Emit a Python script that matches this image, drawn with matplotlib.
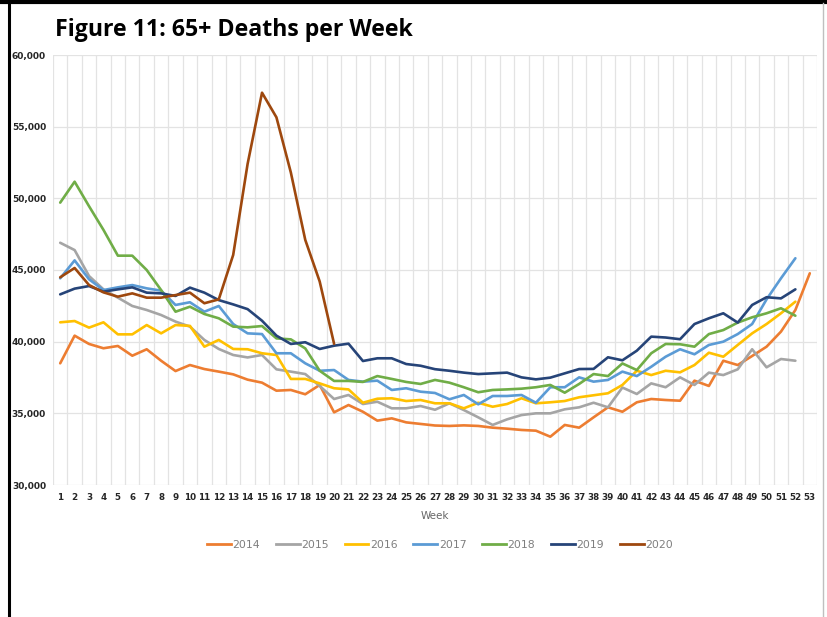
import matplotlib
matplotlib.use("Agg")
import matplotlib.pyplot as plt
from matplotlib.lines import Line2D

weeks = list(range(1, 54))

y2014 = [38490, 40420, 39840, 39540, 39700, 39020, 39470, 38670, 37950, 38370,
         38090, 37910, 37720, 37350, 37140, 36580, 36630, 36330, 36980, 35070,
         35580, 35110, 34490, 34650, 34370, 34260, 34150, 34120, 34160, 34120,
         34000, 33930, 33840, 33790, 33370, 34190, 34000, 34720, 35420, 35110,
         35770, 36000, 35930, 35880, 37280, 36910, 38670, 38370, 39000, 39650,
         40700, 42210, 44770]
y2015 = [46900, 46390, 44580, 43650, 43070, 42490, 42210, 41860, 41400, 41050,
         40120, 39490, 39070, 38900, 39070, 38070, 37910, 37740, 36910, 36000,
         36280, 35650, 35810, 35350, 35350, 35510, 35250, 35700, 35230, 34720,
         34190, 34580, 34880, 35000, 35000, 35280, 35420, 35740, 35420, 36800,
         36350, 37090, 36820, 37510, 36980, 37840, 37670, 38070, 39470, 38210,
         38790, 38670]
y2016 = [41350, 41440, 40980, 41350, 40510, 40510, 41160, 40580, 41160, 41100,
         39650, 40120, 39490, 39470, 39190, 39070, 37400, 37400, 37090, 36750,
         36670, 35740, 36020, 36050, 35860, 35930, 35700, 35700, 35350, 35740,
         35460, 35650, 36050, 35700, 35770, 35860, 36120, 36260, 36400, 36980,
         37970, 37670, 37970, 37860, 38370, 39230, 38950, 39770, 40580, 41230,
         41980, 42790]
y2017 = [44420, 45670, 44350, 43600, 43790, 43950, 43720, 43560, 42560, 42750,
         42090, 42490, 41230, 40580, 40530, 39190, 39190, 38490, 37970, 38020,
         37330, 37210, 37280, 36630, 36750, 36510, 36420, 35980, 36280, 35630,
         36210, 36210, 36280, 35740, 36820, 36820, 37510, 37210, 37330, 37910,
         37600, 38250, 38950, 39470, 39120, 39770, 40000, 40530, 41230, 42950,
         44420, 45820]
y2018 = [49700, 51160, 49450, 47800, 46000, 46000, 45000, 43600, 42090, 42440,
         41930, 41630, 41050, 41000, 41090, 40230, 40160, 39530, 37970, 37260,
         37260, 37190, 37600, 37400, 37190, 37050, 37330, 37140, 36820, 36470,
         36630, 36670, 36720, 36820, 36980, 36440, 37050, 37740, 37600, 38480,
         38020, 39190, 39840, 39820, 39650, 40530, 40810, 41330, 41700, 41980,
         42330, 41810]
y2019 = [43300, 43700, 43880, 43490, 43650, 43790, 43420, 43370, 43190, 43770,
         43420, 42900, 42600, 42270, 41460, 40420, 39840, 39960, 39490, 39720,
         39860, 38650, 38840, 38840, 38440, 38320, 38080, 37970, 37840, 37740,
         37790, 37840, 37510, 37370, 37490, 37790, 38090, 38100, 38910, 38700,
         39370, 40350, 40290, 40170, 41230, 41630, 41980, 41330, 42560, 43100,
         43020, 43650]
y2020 = [44490, 45140, 43950, 43440, 43140, 43370, 43070, 43070, 43250, 43420,
         42680, 42950, 46050, 52400, 57370, 55650, 51800, 47100, 44200, 39850]

series = [("2014", y2014, "#ED7D31"), ("2015", y2015, "#A5A5A5"),
          ("2016", y2016, "#FFC000"), ("2017", y2017, "#5B9BD5"),
          ("2018", y2018, "#70AD47"), ("2019", y2019, "#264478"),
          ("2020", y2020, "#9E480E")]

title = "Figure 11: 65+ Deaths per Week"
yticks = [30000, 35000, 40000, 45000, 50000, 55000, 60000]

W, H = 828, 617
fig = plt.figure(figsize=(W / 100, H / 100), dpi=100)
fig.patch.set_facecolor("white")

ax = fig.add_axes([53 / W, 1 - 485 / H, (817 - 53) / W, (485 - 55) / H])
for name, vals, col in series:
    ax.plot(weeks[:len(vals)], vals, color=col, lw=1.9, solid_joinstyle="round",
            solid_capstyle="round", label=name, zorder=3)

ax.set_xlim(0.5, 53.5)
ax.set_ylim(30000, 60000)
ax.set_yticks(yticks)
ax.set_yticklabels([f"{v:,}" for v in yticks], fontsize=6.5, fontweight="bold",
                   color="#262626")
ax.set_xticks(weeks)
ax.set_xticklabels([str(w) for w in weeks], fontsize=6.3, fontweight="bold",
                   color="#262626")
ax.set_xticks([w + 0.5 for w in range(0, 54)], minor=True)
ax.tick_params(axis="both", which="both", length=0)
ax.tick_params(axis="y", pad=5)
ax.tick_params(axis="x", pad=6)
ax.grid(True, axis="y", which="major", color="#e3e3e3", lw=0.9, zorder=0)
ax.grid(True, axis="x", which="minor", color="#e3e3e3", lw=0.9, zorder=0)
for s in ax.spines.values():
    s.set_visible(False)
ax.set_xlabel("Week", fontsize=7.5, color="#666666", labelpad=6)

handles = [Line2D([0], [0], color=c, lw=2.0) for _, _, c in series]
fig.legend(handles, [n for n, _, _ in series], loc="center",
           bbox_to_anchor=(440 / W, 1 - 545 / H), ncol=7, frameon=False,
           fontsize=7.8, handlelength=2.2, handletextpad=0.15, columnspacing=1.45,
           labelcolor="#7f7f7f")

fig.text(55 / W, 1 - 30 / H, title, fontsize=16.7, fontweight="bold",
         color="black", va="center", ha="left", family=["Open Sans", "DejaVu Sans"])

# frame lines of the screenshot
fig.add_artist(Line2D([9 / W, 9 / W], [0, 1], color="black", lw=2.2,
                      transform=fig.transFigure))
fig.add_artist(Line2D([0, 1], [1 - 2 / H, 1 - 2 / H], color="black", lw=3,
                      transform=fig.transFigure))
fig.add_artist(Line2D([823 / W, 823 / W], [0, 1 - 3 / H], color="#bfbfbf", lw=1,
                      transform=fig.transFigure))

fig.savefig("out.png", dpi=100)
